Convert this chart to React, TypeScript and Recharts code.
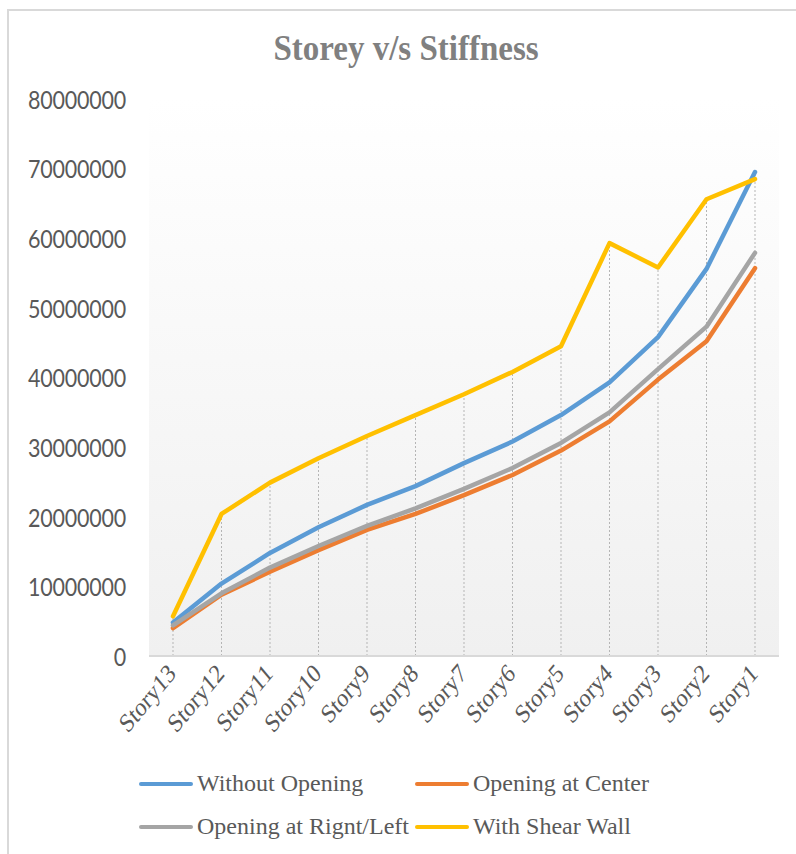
import React from "react";
import { LineChart, Line, XAxis, YAxis, CartesianGrid, ReferenceLine } from "recharts";

const stories = ["Story13", "Story12", "Story11", "Story10", "Story9", "Story8", "Story7", "Story6", "Story5", "Story4", "Story3", "Story2", "Story1"];
const withoutOpening = [4800000, 10400000, 14800000, 18500000, 21700000, 24400000, 27700000, 30800000, 34600000, 39300000, 45800000, 55600000, 69500000];
const openingAtCenter = [4000000, 8800000, 12100000, 15200000, 18100000, 20400000, 23100000, 26000000, 29500000, 33700000, 39700000, 45200000, 55700000];
const openingAtRightLeft = [4400000, 9000000, 12700000, 15800000, 18700000, 21200000, 24000000, 27000000, 30600000, 35000000, 41200000, 47300000, 57900000];
const withShearWall = [5700000, 20400000, 24900000, 28400000, 31600000, 34600000, 37600000, 40800000, 44500000, 59300000, 55800000, 65600000, 68500000];
const yTicks = [0, 10000000, 20000000, 30000000, 40000000, 50000000, 60000000, 70000000, 80000000];

const series = [
  { key: "without", name: "Without Opening", color: "#5b9bd5", values: withoutOpening },
  { key: "center", name: "Opening at Center", color: "#ed7d31", values: openingAtCenter },
  { key: "rightLeft", name: "Opening at Rignt/Left", color: "#a5a5a5", values: openingAtRightLeft },
  { key: "shear", name: "With Shear Wall", color: "#ffc000", values: withShearWall },
];

const data = stories.map((s, i) => {
  const row: any = { story: s };
  series.forEach((sr) => (row[sr.key] = sr.values[i]));
  row.max = Math.max(...series.map((sr) => sr.values[i]));
  return row;
});

const YTick = (props: any) => {
  const { x, y, payload } = props;
  return (
    <g transform={`translate(${x - 15},${y}) scale(1,1.2)`}>
      <text x={0} y={0} textAnchor="end" dominantBaseline="central" fill="#595959"
        style={{ fontFamily: "Lato, sans-serif", fontSize: 21.5, letterSpacing: -0.2 }}>
        {payload.value}
      </text>
    </g>
  );
};

const XTick = (props: any) => {
  const { x, y, payload } = props;
  return (
    <g transform={`translate(${x + 4},${y + 11}) scale(1,1.2)`}>
      <text transform="rotate(-45)" textAnchor="end" fill="#595959"
        style={{ fontFamily: "'Liberation Serif', 'Times New Roman', serif", fontSize: 22 }}>
        {payload.value}
      </text>
    </g>
  );
};

const legendCols = [139, 415];
const legendRows = [784, 827];

export default function App() {
  return (
    <div style={{ position: "absolute", left: 0, top: 0, width: 796, height: 854, overflow: "hidden", background: "#fff" }}>
      <div style={{ position: "absolute", left: 7, top: 9, width: 900, height: 900, border: "2px solid #d9d9d9" }} />
      <div style={{ position: "absolute", left: 0, width: 812, top: 28, textAlign: "center", fontFamily: "'Liberation Serif', 'Times New Roman', serif", fontWeight: "bold", fontSize: 33, color: "#808080", lineHeight: "40px", transform: "scaleY(1.1)" }}>
        Storey v/s Stiffness
      </div>
      <div style={{ position: "absolute", left: 0, top: 0 }}>
        <LineChart width={796} height={854} data={data} margin={{ top: 99, right: 17, bottom: 118, left: 0 }}>
          <defs>
            <linearGradient id="plotBg" x1="0" y1="0" x2="0" y2="1">
              <stop offset="0%" stopColor="#ffffff" />
              <stop offset="100%" stopColor="#f0f0f0" />
            </linearGradient>
          </defs>
          <CartesianGrid horizontal={false} vertical={false} fill="url(#plotBg)" />
          <XAxis dataKey="story" padding={{ left: 24, right: 24 }} height={80} tickLine={false}
            axisLine={{ stroke: "#d9d9d9", strokeWidth: 2 }} tick={<XTick />} interval={0} />
          <YAxis domain={[0, 80000000]} ticks={yTicks} width={149} axisLine={false} tickLine={false} tick={<YTick />} interval={0} />
          {data.map((d) => (
            <ReferenceLine key={d.story} segment={[{ x: d.story, y: 0 }, { x: d.story, y: d.max }]}
              stroke="#b5b5b5" strokeWidth={1} strokeDasharray="2 2" />
          ))}
          {series.map((s) => (
            <Line key={s.key} type="linear" dataKey={s.key} name={s.name} stroke={s.color} strokeWidth={4.5}
              dot={false} activeDot={false} isAnimationActive={false} strokeLinejoin="round" strokeLinecap="round" />
          ))}
        </LineChart>
      </div>
      {series.map((s, i) => {
        const lx = legendCols[i % 2];
        const ly = legendRows[Math.floor(i / 2)];
        return (
          <div key={s.key}>
            <div style={{ position: "absolute", left: lx, top: ly - 2, width: 54, height: 4, borderRadius: 2, background: s.color }} />
            <div style={{ position: "absolute", left: lx + 58, top: ly - 15, fontFamily: "'Liberation Serif', 'Times New Roman', serif", fontSize: 24, lineHeight: "28px", color: "#595959", whiteSpace: "nowrap" }}>
              {s.name}
            </div>
          </div>
        );
      })}
    </div>
  );
}
